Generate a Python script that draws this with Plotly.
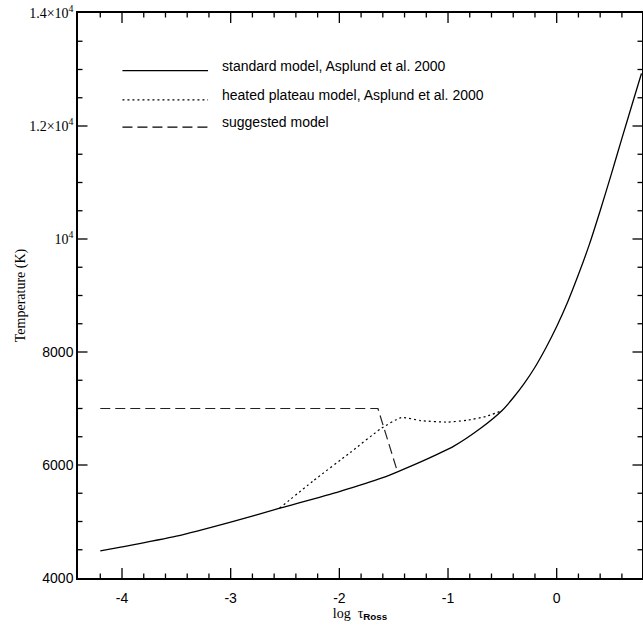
import plotly.graph_objects as go

# ---- data ----
std_logtau = [-4.2, -4.0, -3.5, -3.0, -2.54, -2.0, -1.6, -1.465, -1.2, -0.95, -0.7, -0.5,
              -0.4, -0.3, -0.2, -0.1, 0.0, 0.1, 0.2, 0.3, 0.4, 0.5, 0.6, 0.7, 0.78]
std_T = [4480, 4550, 4740, 4990, 5240, 5530, 5775, 5880, 6100, 6330, 6650, 6970,
         7190, 7440, 7730, 8070, 8450, 8880, 9370, 9900, 10500, 11130, 11780, 12420, 12930]

heat_logtau = [-2.55, -2.24, -1.9, -1.62, -1.43, -1.25, -1.0, -0.83, -0.65, -0.52]
heat_T = [5235, 5720, 6220, 6640, 6840, 6785, 6760, 6790, 6860, 6950]

sugg_logtau = [-4.2, -1.645, -1.465]
sugg_T = [7000, 7000, 5880]

legend_labels = ["standard model, Asplund et al. 2000",
                 "heated plateau model, Asplund et al. 2000",
                 "suggested model"]

ytick_vals = [4000, 6000, 8000, 10000, 12000, 14000]
SER = "<span style='font-family:Liberation Serif'>"
ytick_text = ["4000", "6000", "8000", SER + "10<sup>4</sup></span>",
              SER + "1.2×10<sup>4</sup></span>", SER + "1.4×10<sup>4</sup></span>"]
xtick_vals = [-4, -3, -2, -1, 0]
xtick_text = ["-4", "-3", "-2", "-1", "0"]

X_RANGE = [-4.405, 0.785]
Y_RANGE = [4000, 14000]
PLOT_W, PLOT_H = 564.0, 565.0

fig = go.Figure()

# tick marks on all four sides, drawn as one line trace through the axis scales
x_per_px = (X_RANGE[1] - X_RANGE[0]) / PLOT_W
y_per_px = (Y_RANGE[1] - Y_RANGE[0]) / PLOT_H
tx, ty = [], []
for xv in [round(-4.2 + 0.2 * i, 1) for i in range(25)]:
    L = (10 if abs(xv - round(xv)) < 1e-9 else 4.5) * y_per_px
    tx += [xv, xv, None, xv, xv, None]
    ty += [Y_RANGE[0], Y_RANGE[0] + L, None, Y_RANGE[1], Y_RANGE[1] - L, None]
for yv in [4500 + 500 * i for i in range(19)]:
    L = (9.5 if yv % 2000 == 0 else 4.5) * x_per_px
    tx += [X_RANGE[0], X_RANGE[0] + L, None, X_RANGE[1], X_RANGE[1] - L, None]
    ty += [yv, yv, None, yv, yv, None]
fig.add_trace(go.Scatter(x=tx, y=ty, mode="lines", line=dict(color="black", width=1.3),
                         hoverinfo="skip", showlegend=False, cliponaxis=False))

fig.add_trace(go.Scatter(x=std_logtau, y=std_T, mode="lines",
                         line=dict(color="black", width=1.3, shape="spline", smoothing=0.6),
                         name=legend_labels[0], showlegend=False))
fig.add_trace(go.Scatter(x=heat_logtau, y=heat_T, mode="lines",
                         line=dict(color="black", width=1.2, dash="2px,3px", shape="spline", smoothing=0.5),
                         name=legend_labels[1], showlegend=False))
fig.add_trace(go.Scatter(x=sugg_logtau, y=sugg_T, mode="lines",
                         line=dict(color="#222", width=1.2, dash="10px,5px"),
                         name=legend_labels[2], showlegend=False))

# manual legend (paper coordinates)
leg_dash = ["solid", "2px,3px", "10px,5px"]
leg_y = [0.898, 0.8463, 0.7979]
for lab, d, yy in zip(legend_labels, leg_dash, leg_y):
    fig.add_shape(type="line", xref="paper", yref="paper", x0=0.0788, x1=0.2306, y0=yy, y1=yy,
                  line=dict(color="black", width=1.2, dash=d))
    fig.add_annotation(xref="paper", yref="paper", x=0.2514, y=yy + 0.009, text=lab,
                       showarrow=False, xanchor="left", yanchor="middle",
                       font=dict(family="Liberation Sans", size=14, color="black"))

fig.update_xaxes(range=X_RANGE, tickmode="array", tickvals=xtick_vals, ticktext=xtick_text,
                 ticks="outside", ticklen=6, tickwidth=1, tickcolor="rgba(0,0,0,0)",
                 showline=True, linecolor="black", linewidth=1.5, mirror=True,
                 showgrid=False, zeroline=False, automargin=False,
                 tickfont=dict(family="Liberation Sans", size=14, color="black"),
                 title=dict(text="log  τ<sub><span style='font-family:Liberation Sans;font-weight:bold'>Ross</span></sub>",
                            font=dict(family="Liberation Serif", size=14, color="black"), standoff=2))
fig.update_yaxes(range=Y_RANGE, tickmode="array", tickvals=ytick_vals, ticktext=ytick_text,
                 ticks="inside", ticklen=9, tickwidth=1, tickcolor="rgba(0,0,0,0)",
                 showline=True, linecolor="black", linewidth=1.5, mirror=True,
                 showgrid=False, zeroline=False, automargin=False,
                 tickfont=dict(family="Liberation Sans", size=14, color="black"),
                 title=dict(text="Temperature (K)",
                            font=dict(family="Liberation Serif", size=14, color="black"), standoff=0))

fig.update_layout(width=643, height=627, margin=dict(l=78, r=1, t=13, b=49, autoexpand=False),
                  plot_bgcolor="white", paper_bgcolor="white", showlegend=False)

fig.write_html("out.html", config={"displayModeBar": False},
               post_script="document.body.style.margin='0';document.body.style.overflow='hidden';")
